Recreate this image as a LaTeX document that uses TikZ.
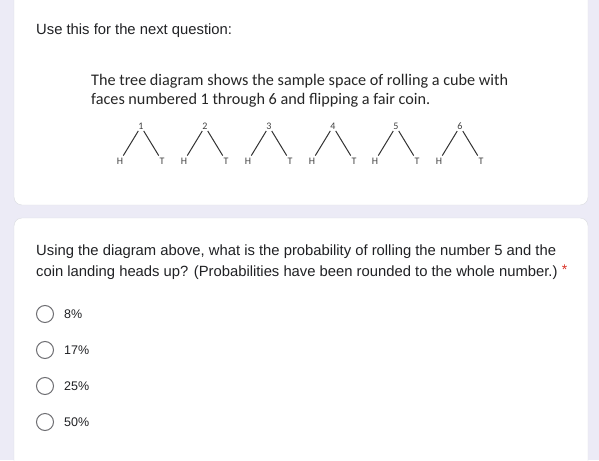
\documentclass[tikz,border=0pt]{standalone}
\usepackage{fontspec}
\setmainfont{Liberation Sans}
\newfontfamily\bookfont{Carlito}
\usetikzlibrary{positioning}
\definecolor{pagebg}{RGB}{236,235,246}
\definecolor{cardline}{RGB}{218,220,224}
\definecolor{formtext}{RGB}{32,33,36}
\definecolor{radiogray}{RGB}{110,110,114}
\definecolor{starred}{RGB}{217,48,37}
\tikzset{
  card/.style={fill=white,draw=cardline,rounded corners=8pt},
  formtxt/.style={anchor=base west,inner sep=0pt,text=formtext,font=\fontsize{14.8}{20}\selectfont},
  booktxt/.style={anchor=base west,inner sep=0pt,text=black!85,font=\bookfont\fontsize{16.2}{20}\selectfont},
  face/.style={inner sep=1pt,text=black!75,font=\bookfont\fontsize{10}{11}\selectfont},
  coin/.style={inner sep=2pt,text=black!75,font=\bookfont\fontsize{10}{11}\selectfont},
  branch/.style={draw=black!80,line width=1pt},
  radio/.style={circle,draw=radiogray,line width=1pt,minimum size=17pt,inner sep=0pt},
  choice/.style={anchor=base west,inner sep=0pt,text=formtext,font=\fontsize{12.5}{14}\selectfont}
}
\begin{document}
\begin{tikzpicture}[x=1pt,y=-1pt]
\useasboundingbox[fill=pagebg] (0,0) rectangle (599,460);
% the two cards
\path[card] (14,-12) rectangle (588,205);
\path[card] (14,218) rectangle (588,480);
%
\node (intro) [formtxt] at (36,34.5) {Use this for the next question:};
\node (stem1) [booktxt] at (91,85) {The tree diagram shows the sample space of rolling a cube with};
\node (stem2) [booktxt] at (91,104) {faces numbered 1 through 6 and flipping a fair coin.};
%
\node (f1) [face] at (141,126.5) {1};
\node (f2) [face] at (205,126.5) {2};
\node (f3) [face] at (269,126.5) {3};
\node (f4) [face] at (333,126.5) {4};
\node (f5) [face] at (396,126.5) {5};
\node (f6) [face] at (460,126.5) {6};
%
\node (h1) [coin] at (120,161) {H};
\node (t1) [coin] at (162,161) {T};
\node (h2) [coin] at (184,161) {H};
\node (t2) [coin] at (226,161) {T};
\node (h3) [coin] at (248,161) {H};
\node (t3) [coin] at (290,161) {T};
\node (h4) [coin] at (312,161) {H};
\node (t4) [coin] at (354,161) {T};
\node (h5) [coin] at (375,161) {H};
\node (t5) [coin] at (417,161) {T};
\node (h6) [coin] at (439,161) {H};
\node (t6) [coin] at (481,161) {T};
%
\path[branch] (f1) edge (h1) edge (t1);
\path[branch] (f2) edge (h2) edge (t2);
\path[branch] (f3) edge (h3) edge (t3);
\path[branch] (f4) edge (h4) edge (t4);
\path[branch] (f5) edge (h5) edge (t5);
\path[branch] (f6) edge (h6) edge (t6);
%
\node (ask1) [formtxt] at (36,255) {Using the diagram above, what is the probability of rolling the number 5 and the};
\node (ask2) [formtxt] at (36,276) {coin landing heads up? (Probabilities have been rounded to the whole number.)};
\node (star) [right=4pt of ask2.north east,anchor=north west,inner sep=0pt,text=starred,font=\fontsize{14}{16}\selectfont] {*};
%
\node (r1) [radio] at (45,314) {};
\node (r2) [radio] at (45,350) {};
\node (r3) [radio] at (45,386) {};
\node (r4) [radio] at (45,422) {};
\node (c1) [choice] at (64,318.5) {8\%};
\node (c2) [choice] at (64,354.5) {17\%};
\node (c3) [choice] at (64,390.5) {25\%};
\node (c4) [choice] at (64,426.5) {50\%};
\end{tikzpicture}
\end{document}
